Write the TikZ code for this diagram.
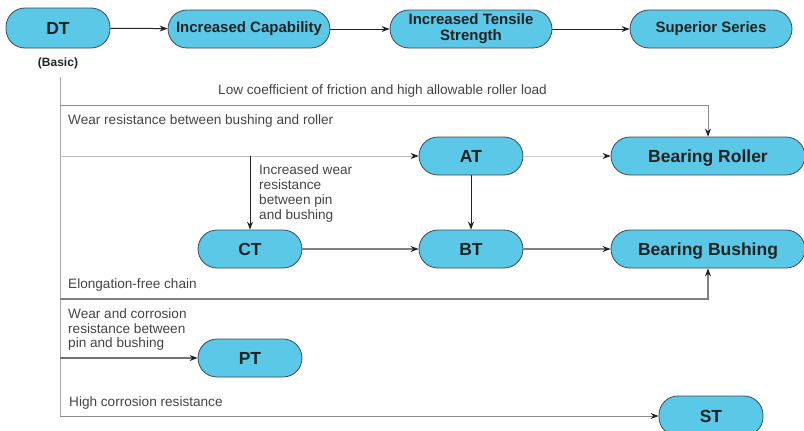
\documentclass[tikz,border=0pt]{standalone}
\usepackage{fontspec}
\setmainfont{Liberation Sans}
\usetikzlibrary{arrows.meta}
\definecolor{boxfill}{HTML}{5BC8E8}
\definecolor{boxline}{HTML}{3A4A55}
\definecolor{txt}{HTML}{222222}
\definecolor{lbl}{HTML}{444444}
\tikzset{
  x=1pt, y=-1pt,
  pill/.style={draw=boxline, line width=0.8pt, fill=boxfill, rounded corners=19pt,
    minimum height=38pt, inner sep=0pt, align=center, text=txt, font=\bfseries\fontsize{17.5}{19}\selectfont},
  small/.style={pill, minimum width=104pt, text height=12.5pt, text depth=0pt},
  wide/.style={pill, minimum width=162pt, font=\bfseries\fontsize{15}{16}\selectfont},
  big/.style={pill, minimum width=194pt, text height=12.5pt, text depth=0pt},
  lab/.style={anchor=west, inner sep=0pt, align=left, text=lbl, font=\fontsize{13.6}{15}\selectfont},
  arr/.style={-{Stealth[length=8pt,width=6pt,color=txt]}, draw=#1, line width=1pt},
  arr/.default={txt},
  trunk/.style={draw=black!35, line width=0.9pt}
}
\begin{document}
\begin{tikzpicture}
\useasboundingbox (0,0) rectangle (804,431);
% top row
\node[small, minimum height=40pt] (DT) at (58,28) {DT};
\node[wide] (IC) at (249,29) {Increased Capability};
\node[wide] (ITS) at (471,29) {Increased Tensile\\Strength};
\node[wide] (SS) at (711,29) {Superior Series};
\node[inner sep=0pt, text=txt, font=\bfseries\fontsize{12}{14}\selectfont] (basic) at (58,63) {(Basic)};
\draw[arr] (DT) -- (IC);
\draw[arr] (IC) -- (ITS);
\draw[arr] (ITS) -- (SS);
% lower nodes
\node[small] (AT) at (471,156) {AT};
\node[big] (BR) at (708,156) {Bearing Roller};
\node[small] (CT) at (250,249) {CT};
\node[small] (BT) at (471,249) {BT};
\node[big] (BB) at (708,249) {Bearing Bushing};
\node[small] (PT) at (250,358) {PT};
\node[small, minimum height=40pt] (ST) at (711,416) {ST};
% trunk coordinates
\coordinate (top) at (60,77);
\coordinate (j1) at (60,105);
\coordinate (j2) at (60,156);
\coordinate (b1) at (250,156);
\coordinate (j3) at (60,299);
\coordinate (j4) at (60,358);
\coordinate (bot) at (60,416);
\draw[trunk] (top) -- (bot);
% branches
\draw[arr=black!45, line width=0.9pt] (j1) -| (BR);
\draw[arr=black!25, line width=0.8pt] (j2) -- (AT);
\draw[arr] (b1) -- (CT);
\draw[arr=black!50, line width=1.4pt] (j3) -| (BB);
\draw[arr=black!55, line width=1.2pt] (j4) -- (PT);
\draw[arr=black!45, line width=1pt] (bot) -- (ST);
\draw[arr=black!20, line width=0.8pt] (AT) -- (BR);
\draw[arr] (AT) -- (BT);
\draw[arr=black!50, line width=1.4pt] (CT) -- (BT);
\draw[arr=black!50, line width=1.4pt] (BT) -- (BB);
% labels
\node[lab] (l1) at (218,91) {Low coefficient of friction and high allowable roller load};
\node[lab] (l2) at (68,121) {Wear resistance between bushing and roller};
\node[lab] (l3) at (259,193.5) {Increased wear\\resistance\\between pin\\and bushing};
\node[lab] (l4) at (68,285) {Elongation-free chain};
\node[lab, font=\fontsize{13.6}{14.5}\selectfont] (l5) at (68,329.5) {Wear and corrosion\\resistance between\\pin and bushing};
\node[lab] (l6) at (69,403) {High corrosion resistance};
\end{tikzpicture}
\end{document}
